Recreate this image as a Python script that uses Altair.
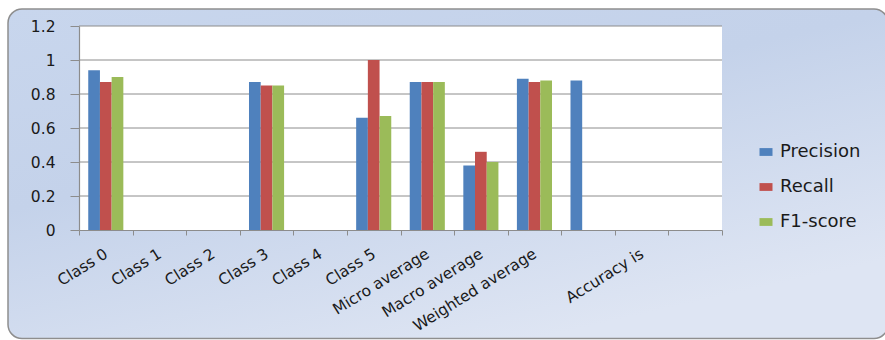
import altair as alt
import pandas as pd

# Categories along the x axis (two blank slots keep their own positions)
categories = [
    "Class 0", "Class 1", "Class 2", "Class 3", "Class 4", "Class 5",
    "Micro average", "Macro average", "Weighted average", " ", "Accuracy is", "  ",
]
series = ["Precision", "Recall", "F1-score"]

# Scores per category (None = no bar)
precision = [0.94, None, None, 0.87, None, 0.66, 0.87, 0.38, 0.89, 0.88, None, None]
recall = [0.87, None, None, 0.85, None, 1.00, 0.87, 0.46, 0.87, None, None, None]
f1_score = [0.90, None, None, 0.85, None, 0.67, 0.87, 0.40, 0.88, None, None, None]

colors = ["#4F81BD", "#C0504D", "#9BBB59"]
y_ticks = [0, 0.2, 0.4, 0.6, 0.8, 1.0, 1.2]
heading = "Figure 3: Graphical representation of proposed method"

rows = []
for name, vals in zip(series, [precision, recall, f1_score]):
    for cat, v in zip(categories, vals):
        if v is not None:
            rows.append({"category": cat, "series": name, "value": v})
df = pd.DataFrame(rows)

W, H = 643, 204
PAD = {"left": 79, "top": 26, "right": 885 - 79 - W, "bottom": 340 - 26 - H}

FONT = "DejaVu Sans"
GRID = "#8c8c8c"
TEXT = "#1a1a1a"

x_scale = alt.Scale(domain=categories, paddingInner=0, paddingOuter=0)
xoff_scale = alt.Scale(domain=series, paddingInner=0, paddingOuter=0.79)
y_scale = alt.Scale(domain=[0, 1.2], nice=False)

y_axis = alt.Axis(
    values=y_ticks, format="~g", labelFont=FONT, labelFontSize=15.5,
    labelColor=TEXT, labelPadding=15, tickSize=9, tickColor=GRID,
    domainColor=GRID, domainWidth=1.2, grid=False, zindex=1,
    labelOverlap=False, labelFlush=False, tickCount=7,
)

# Chart-area panel with a soft blue gradient and rounded border
panel_fill = alt.LinearGradient(
    gradient="linear",
    stops=[
        alt.GradientStop(color="#c8d6ed", offset=0),
        alt.GradientStop(color="#c4d2ea", offset=0.45),
        alt.GradientStop(color="#dee5f3", offset=1),
    ],
    x1=0, y1=0, x2=0.6, y2=1,
)
panel = alt.Chart(alt.Data(values=[{}])).mark_rect(
    fill=panel_fill, stroke="#8e8e8e", strokeWidth=1.5, cornerRadius=14
).encode(
    x=alt.value(8 - PAD["left"]),
    x2=alt.value(888 - PAD["left"]),
    y=alt.value(9 - PAD["top"]),
    y2=alt.value(338.5 - PAD["top"]),
)

# Figure heading above the panel (its upper part runs past the top edge)
title = alt.Chart(alt.Data(values=[{"t": heading}])).mark_text(
    font="Liberation Serif", fontSize=26.6, fontWeight="bold", color="black",
    align="center", baseline="alphabetic",
).encode(
    text="t:N",
    x=alt.value(451.2 - PAD["left"]),
    y=alt.value(-5.8 - PAD["top"]),
)

# White plot area
plot_bg = alt.Chart(alt.Data(values=[{}])).mark_rect(fill="white").encode(
    x=alt.value(0), x2=alt.value(W), y=alt.value(0), y2=alt.value(H)
)

# Horizontal gridlines behind the bars
grid = alt.Chart(pd.DataFrame({"value": y_ticks[1:]})).mark_rule(
    color=GRID, strokeWidth=1
).encode(
    y=alt.Y("value:Q", scale=y_scale, title=None, axis=y_axis),
    x=alt.value(0),
    x2=alt.value(W),
)

bars = alt.Chart(df).mark_bar().encode(
    x=alt.X(
        "category:N",
        scale=x_scale,
        sort=categories,
        title=None,
        axis=alt.Axis(
            labelAngle=-32, labelAlign="right", labelBaseline="middle",
            labelFont=FONT, labelFontSize=15.5, labelColor=TEXT, labelPadding=17,
            tickBand="extent", tickSize=5, tickColor=GRID, domainColor=GRID,
            domainWidth=1.2, grid=False, zindex=1, labelOverlap=False,
        ),
    ),
    xOffset=alt.XOffset("series:N", scale=xoff_scale, sort=series),
    y=alt.Y("value:Q", scale=y_scale, title=None, axis=y_axis),
    color=alt.Color(
        "series:N",
        scale=alt.Scale(domain=series, range=colors),
        sort=series,
        legend=alt.Legend(
            title=None, orient="none", legendX=678, legendY=117, padding=0,
            symbolType="M-1,-0.6H1V0.6H-1Z", symbolSize=169, symbolStrokeWidth=0,
            symbolOpacity=1, labelFont=FONT, labelFontSize=18, labelColor=TEXT,
            labelOffset=5, rowPadding=17, zindex=1,
        ),
    ),
)

chart = alt.layer(panel, title, plot_bg, grid, bars).properties(
    width=W,
    height=H,
    padding=PAD,
    autosize="none",
).configure_view(stroke=None)

chart.save("out.html", embed_options={"renderer": "svg", "actions": False})
